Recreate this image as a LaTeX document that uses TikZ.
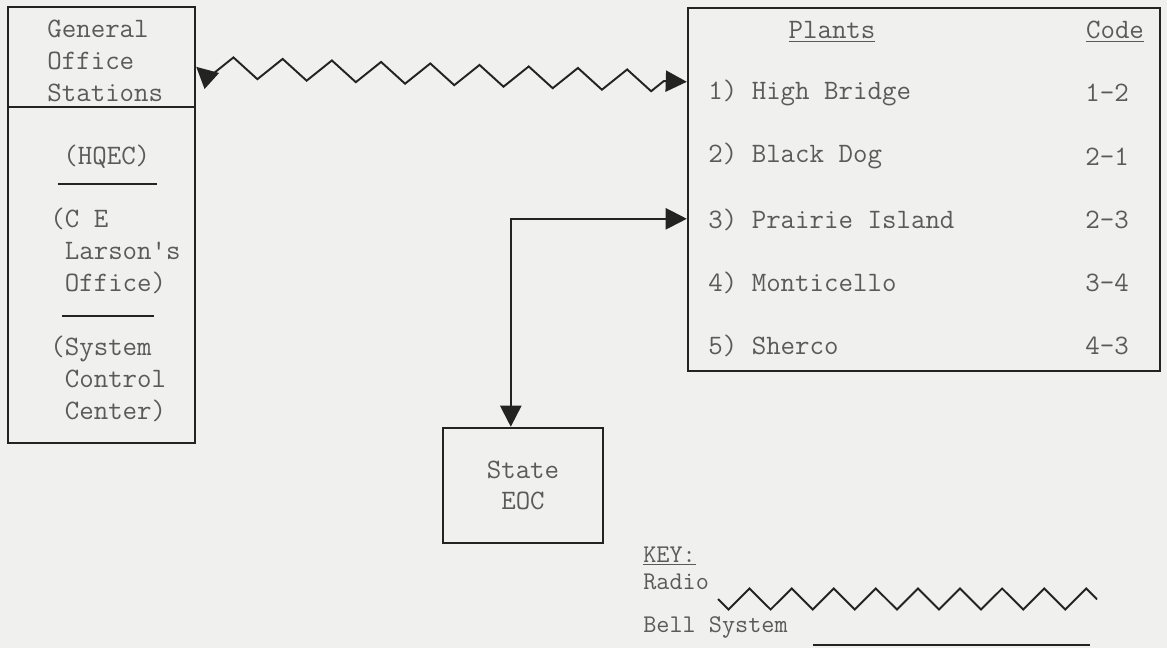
\documentclass[tikz,border=0pt]{standalone}
\usepackage{fontspec}
\usetikzlibrary{positioning, arrows.meta, calc, decorations.pathmorphing}
\definecolor{paper}{RGB}{240,240,239}
\definecolor{ink}{RGB}{35,35,35}
\definecolor{typed}{RGB}{90,90,90}
\tikzset{
    boxstyle/.style={rectangle, draw=ink, line width=1.4pt, inner sep=0pt},
    typefont/.style={font=\ttfamily\fontsize{16}{18}\selectfont, text=typed},
    typetext/.style={typefont, inner sep=0pt, anchor=west, align=left},
    keytext/.style={font=\ttfamily\fontsize{14.5}{16}\selectfont, text=typed, inner sep=0pt, anchor=west},
    sepline/.style={draw=ink, line width=1.3pt},
    radiolink/.style={draw=ink, line width=1.1pt, decorate, decoration={zigzag, mirror, segment length=0.985cm, amplitude=0.21cm}},
    belllink/.style={draw=ink, line width=1.2pt},
    tips/.style={{Triangle[length=12pt, width=12pt]}-{Triangle[length=12pt, width=12pt]}}
}
\begin{document}
\begin{tikzpicture}[x=0.02cm, y=-0.02cm]
    \fill[paper] (0,0) rectangle (1167,648);
    \useasboundingbox (0,0) rectangle (1167,648);
    % general office stations
    \node[boxstyle, minimum width=3.74cm, minimum height=8.72cm] (gos) at (101.5,225) {};
    \draw[sepline] ($(gos.north west)+(0,101)$) -- ($(gos.north east)+(0,101)$);
    \node[typetext] (gostitle) at (47,61) {General\\Office\\Stations};
    \node[typetext] (hqec) at (63,157) {(HQEC)};
    \draw[sepline] (58,184) -- (157,184);
    \node[typetext] (larson) at (50,251) {(C E\\\hphantom{(}Larson\textquotesingle s\\\hphantom{(}Office)};
    \draw[sepline] (62,316) -- (154,316);
    \node[typetext] (scc) at (50,379) {(System\\\hphantom{(}Control\\\hphantom{(}Center)};
    % plants and codes
    \node[boxstyle, minimum width=9.44cm, minimum height=7.26cm] (plants) at (924,189.5) {};
    \node[typetext, anchor=center] (plantshead) at (832,32) {\underline{Plants}};
    \node[typetext, anchor=center] (codehead) at (1115,32) {\underline{Code}};
    \foreach \plant/\code [count=\i] in {High Bridge/1-2, Black Dog/2-1, Prairie Island/2-3, Monticello/3-4, Sherco/4-3} {
        \node[typetext] (plant\i) at (708,{93+(\i-1)*63.25}) {\i) \plant};
        \node[typetext] (code\i) at (1085,{93+(\i-1)*63.25}) {\code};
    }
    % state eoc
    \node[boxstyle, typefont, align=center, minimum width=3.2cm, minimum height=2.3cm] (eoc) at (523,485.5) {State\\EOC};
    % links
    \draw[radiolink, tips] ($(gos.north east)+(0,61)$) -- ($(plants.north west)+(0,75)$);
    \draw[belllink, tips] ($(eoc.north west)+(69,0)$) |- ($(plants.north west)+(0,212)$);
    % key
    \node[keytext] (keyhead) at (643,556) {\underline{KEY:}};
    \node[keytext] (radiolbl) at (643,582) {Radio};
    \coordinate (radioA) at (718,599);
    \coordinate (radioB) at (1097,599);
    \draw[radiolink, decoration={segment length=0.842cm}] (radioA) -- (radioB);
    \node[keytext] (belllbl) at (643,627) {Bell System};
    \coordinate (bellA) at (813,645);
    \coordinate (bellB) at (1090,645);
    \draw[belllink] (bellA) -- (bellB);
\end{tikzpicture}
\end{document}
